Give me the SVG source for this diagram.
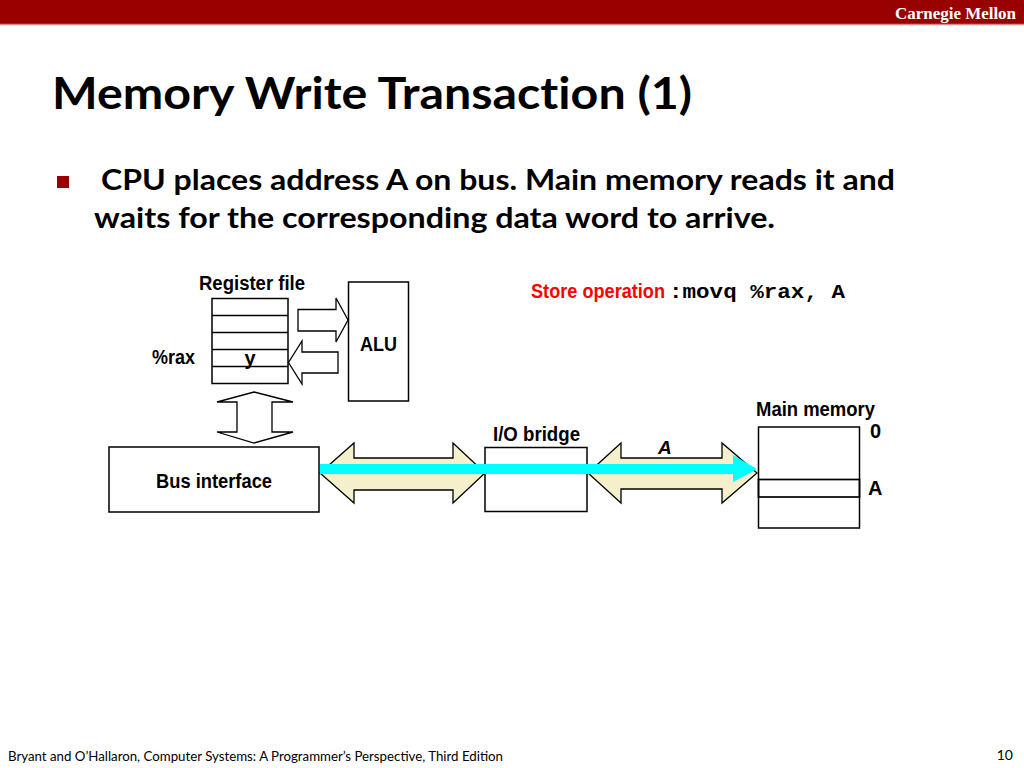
<svg xmlns="http://www.w3.org/2000/svg" width="1024" height="768" viewBox="0 0 1024 768">
<style>
.box{fill:#fff;stroke:#000;stroke-width:1.5}
.fat{fill:#fff;stroke:#000;stroke-width:1.3}
.bus{fill:#F3F0CB;stroke:#000;stroke-width:1.3}
.lbl{font-family:"Liberation Sans Narrow","Liberation Sans",Arial,sans-serif;font-weight:bold;font-size:20px;fill:#000}
.cal{font-family:Lato,"Open Sans",sans-serif;font-weight:bold;fill:#000;font-variant-ligatures:none}
</style>
<rect x="0" y="0" width="1024" height="24" fill="#990000"/>
<line x1="0" y1="24.5" x2="1024" y2="24.5" stroke="#d98c8c" stroke-width="1.5"/>
<text x="1016" y="19" text-anchor="end" font-family="'Liberation Serif',serif" font-weight="bold" font-size="16" fill="#fff" textLength="121" lengthAdjust="spacingAndGlyphs">Carnegie Mellon</text>
<text class="cal" x="52" y="109" font-size="44" textLength="640" lengthAdjust="spacingAndGlyphs">Memory Write Transaction (1)</text>
<rect x="57" y="176" width="12" height="12" fill="#990000"/>
<text class="cal" x="101" y="190" font-size="28" textLength="794" lengthAdjust="spacingAndGlyphs">CPU places address A on bus. Main memory reads it and</text>
<text class="cal" x="94" y="228" font-size="28" textLength="681" lengthAdjust="spacingAndGlyphs">waits for the corresponding data word to arrive.</text>
<g id="store-op">
<text class="lbl" x="531" y="298" style="fill:#ff0000" textLength="134" lengthAdjust="spacingAndGlyphs">Store operation</text>
<text x="669" y="298" font-family="'Liberation Mono','Courier New',monospace" font-weight="bold" font-size="21" textLength="176" lengthAdjust="spacingAndGlyphs">:movq %rax, A</text>
</g>
<g id="register-file">
<text class="lbl" x="199" y="290" textLength="106" lengthAdjust="spacingAndGlyphs">Register file</text>
<rect class="box" x="212" y="298.5" width="76" height="85"/>
<line x1="212" y1="315.5" x2="288" y2="315.5" stroke="#000" stroke-width="1.5"/>
<line x1="212" y1="332.5" x2="288" y2="332.5" stroke="#000" stroke-width="1.5"/>
<line x1="212" y1="349.5" x2="288" y2="349.5" stroke="#000" stroke-width="1.5"/>
<line x1="212" y1="366.5" x2="288" y2="366.5" stroke="#000" stroke-width="1.5"/>
<text class="lbl" x="152" y="364" textLength="43" lengthAdjust="spacingAndGlyphs">%rax</text>
<text class="lbl" x="250" y="365" text-anchor="middle">y</text>
</g>
<g id="alu">
<rect class="box" x="348.5" y="282" width="60" height="119"/>
<text class="lbl" x="360" y="351" textLength="37" lengthAdjust="spacingAndGlyphs">ALU</text>
</g>
<g id="bus-interface">
<rect class="box" x="109" y="447" width="210" height="65"/>
<text class="lbl" x="156" y="488" textLength="116" lengthAdjust="spacingAndGlyphs">Bus interface</text>
</g>
<g id="io-bridge">
<rect class="box" x="485" y="447.5" width="102" height="64"/>
<text class="lbl" x="493" y="441" textLength="87" lengthAdjust="spacingAndGlyphs">I/O bridge</text>
</g>
<g id="main-memory">
<text class="lbl" x="756" y="416" textLength="119" lengthAdjust="spacingAndGlyphs">Main memory</text>
<rect class="box" x="758.5" y="427" width="101" height="101"/>
<rect x="758.5" y="479.5" width="101" height="17.5" fill="none" stroke="#000" stroke-width="1.7"/>
<text class="lbl" x="870" y="438">0</text>
<text class="lbl" x="868" y="495">A</text>
</g>
<g id="connectors">
<polygon class="fat" points="298,309.5 336,309.5 336,298 348,320 336,342 336,331 298,331"/>
<polygon class="fat" points="338,352 302,352 302,341 288.5,362.5 302,384 302,373 338,373"/>
<polygon class="fat" points="254,392 293,402 272,402 272,432 293,432 254,443 217,432 237,432 237,402 217,402"/>
<polygon class="bus" points="320,473 354,443 354,458 453,458 453,443 485,473 453,503 453,490 354,490 354,503"/>
<polygon class="bus" points="588,473 621,443 621,458 722,458 722,443 757,473 722,503 722,489 621,489 621,503"/>
<line x1="320" y1="469" x2="734" y2="469" stroke="#00FFFF" stroke-width="10"/>
<polygon points="733,455 757,469 733,482" fill="#00FFFF"/>
<text x="658" y="454" font-family="'Liberation Sans',Arial,sans-serif" font-weight="bold" font-style="italic" font-size="19">A</text>
</g>
<text x="8" y="761" font-family="Lato,'Open Sans',sans-serif" font-size="13" fill="#000" textLength="495" lengthAdjust="spacingAndGlyphs">Bryant and O’Hallaron, Computer Systems: A Programmer’s Perspective, Third Edition</text>
<text x="1013" y="760" text-anchor="end" font-family="Lato,'Open Sans',sans-serif" font-size="14" fill="#000">10</text>
</svg>
